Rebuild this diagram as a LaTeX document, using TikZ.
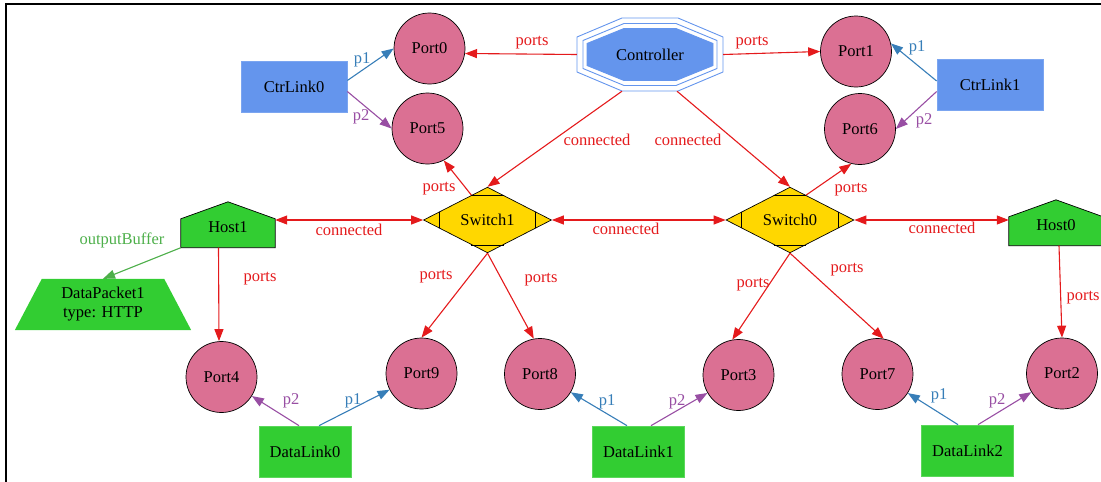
\documentclass[tikz,border=0pt]{standalone}
\usepackage{fontspec}
\setmainfont{Liberation Serif}
\usetikzlibrary{arrows.meta,calc,shapes.geometric,backgrounds}
\definecolor{ered}{HTML}{E41A1C}
\definecolor{eblue}{HTML}{377EB8}
\definecolor{epurple}{HTML}{984EA3}
\definecolor{egreen}{HTML}{4DAF4A}
\definecolor{portfill}{HTML}{DB7093}
\definecolor{limeg}{HTML}{32CD32}
\definecolor{goldc}{HTML}{FFD700}
\definecolor{cfblue}{HTML}{6495ED}
\begin{document}
\begin{tikzpicture}[x=1pt,y=-1pt,
  >={Triangle[length=12pt,width=9pt]},
  every node/.style={font=\fontsize{16.5}{19}\selectfont},
  portnode/.style={circle,draw=black,line width=0.7pt,fill=portfill,minimum size=71pt,inner sep=0pt},
  ctrllink/.style={rectangle,fill=cfblue,draw=cfblue!85!white,line width=0.7pt,minimum width=106pt,minimum height=51pt,inner sep=0pt},
  datalink/.style={rectangle,fill=limeg,draw=limeg!80!white,line width=0.7pt,minimum width=92pt,minimum height=51pt,inner sep=0pt},
  switchnode/.style={diamond,draw=black,line width=0.7pt,fill=goldc,minimum width=128pt,minimum height=49pt,inner sep=0pt},
  hostnode/.style={rectangle,minimum width=94pt,minimum height=41pt,inner sep=0pt},
  hostshape/.style={fill=limeg,draw=black,line width=0.7pt},
  octline/.style={draw=cfblue,line width=0.9pt},
  redge/.style={draw=ered,line width=1.1pt,->},
  bedge/.style={draw=ered,line width=1.1pt,<->},
  pone/.style={draw=eblue,line width=1.1pt,->},
  ptwo/.style={draw=epurple,line width=1.1pt,->},
  gedge/.style={draw=egreen,line width=1.1pt,->},
  rlab/.style={text=ered,inner sep=0pt},
  blab/.style={text=eblue,inner sep=0pt},
  plab/.style={text=epurple,inner sep=0pt},
  glab/.style={text=egreen,inner sep=0pt},
  mark/.style={}]
\useasboundingbox (0,0) rectangle (1101,482);
% frame
\draw[line width=1.2pt] (6,490) -- (6,4) -- (1110,4);

% nodes
\node[portnode] (port0) at (429.5,48.5) {Port0};
\node[portnode] (port5) at (427.5,128.5) {Port5};
\node[portnode] (port1) at (856,51.5) {Port1};
\node[portnode] (port6) at (860,129) {Port6};
\node[portnode] (port4) at (221.5,377) {Port4};
\node[portnode] (port9) at (421.5,373.5) {Port9};
\node[portnode] (port8) at (540,374) {Port8};
\node[portnode] (port3) at (738.5,375) {Port3};
\node[portnode] (port7) at (877.5,374) {Port7};
\node[portnode] (port2) at (1062,373.5) {Port2};
\node[ctrllink] (cl0) at (294,86.5) {CtrLink0};
\node[ctrllink] (cl1) at (990,84.5) {CtrLink1};
\node[datalink] (dl0) at (305,451.5) {DataLink0};
\node[datalink] (dl1) at (638.5,451.5) {DataLink1};
\node[datalink] (dl2) at (967.5,450.5) {DataLink2};
\node[switchnode] (s1) at (487.5,220) {Switch1};
\node[switchnode] (s0) at (790,220) {Switch0};
\node[hostnode] (h1) at (228,227) {Host1};
\node[hostnode] (h0) at (1056,225) {Host0};
\node[rectangle,minimum width=146pt,minimum height=73pt,inner sep=0pt] (ctrl) at (650,54.5) {Controller};
\node[rectangle,minimum width=176pt,minimum height=51pt,inner sep=0pt,align=center] (dp1) at (103,304.5) {DataPacket1\\type: HTTP};

% shapes drawn behind the texts
\begin{scope}[on background layer]
  \draw[hostshape] (h1.south west) -- (h1.south east) -- ($(h1.north east)+(0,12.5)$) -- ($(h1.north)+(0,-4.5)$) -- ($(h1.north west)+(0,12.5)$) -- cycle;
  \draw[hostshape] (h0.south west) -- (h0.south east) -- ($(h0.north east)+(0,12.5)$) -- ($(h0.north)+(0,-4.5)$) -- ($(h0.north west)+(0,12.5)$) -- cycle;
  \draw[octline] (622,18) -- (678,18) -- (723,37) -- (723,72) -- (678,91) -- (622,91) -- (577,72) -- (577,37) -- cycle;
  \draw[octline] (624,23.5) -- (676,23.5) -- (717,40.5) -- (717,68.5) -- (676,85.5) -- (624,85.5) -- (583,68.5) -- (583,40.5) -- cycle;
  \draw[octline,fill=cfblue] (624,28.5) -- (676,28.5) -- (713,43.5) -- (713,65.5) -- (676,80.5) -- (624,80.5) -- (587,65.5) -- (587,43.5) -- cycle;
  \fill[limeg] (dp1.south west) -- (dp1.south east) -- ($(dp1.north east)+(-27,0)$) -- ($(dp1.north west)+(27,0)$) -- cycle;
\end{scope}

% switch corner marks
\foreach \s in {s1,s0}{
  \draw[line width=0.7pt] ($(\s.west)!0.25!(\s.north)$) -- ($(\s.west)!0.25!(\s.south)$);
  \draw[line width=0.7pt] ($(\s.east)!0.25!(\s.north)$) -- ($(\s.east)!0.25!(\s.south)$);
  \draw[line width=0.7pt] ($(\s.north)!0.25!(\s.west)$) -- ($(\s.north)!0.25!(\s.east)$);
  \draw[line width=0.7pt] ($(\s.south)!0.25!(\s.west)$) -- ($(\s.south)!0.25!(\s.east)$);
}

% red edges
\draw[redge] (ctrl.west) -- (port0.-8);
\draw[redge] (ctrl.east) -- (port1.west);
\draw[redge] ([xshift=-28pt]ctrl.south) -- (s1.north);
\draw[redge] ([xshift=27pt]ctrl.south) -- (s0.north);
\draw[redge] ($(s1.north)!0.25!(s1.west)$) -- (port5.-63);
\draw[redge] ($(s0.north)!0.25!(s0.east)$) -- (port6.-104);
\draw[bedge] (s1.west) -- (h1.east |- s1.west);
\draw[bedge] (s1.east) -- (s0.west);
\draw[bedge] (s0.east) -- (h0.west |- s0.east);
\draw[redge] (s1.south) -- (port9.north);
\draw[redge] (s1.south) -- (port8.100);
\draw[redge] (s0.south) -- (port3.100);
\draw[redge] (s0.south) -- (port7.80);
\draw[redge] ([xshift=-9.5pt]h1.south) -- ([xshift=-2.5pt]port4.north);
\draw[redge] ([xshift=3pt]h0.south) -- (port2.north);
\draw[gedge] (h1.south west) -- (dp1.north);

% link edges
\draw[pone] ([yshift=6pt]cl0.east) -- (port0.west);
\draw[ptwo] ([yshift=-5pt]cl0.east) -- (port5.west);
\draw[pone] ([yshift=3.5pt]cl1.west) -- (port1.13);
\draw[ptwo] ([yshift=-7pt]cl1.west) -- (port6.east);
\draw[ptwo] ([xshift=-6pt]dl0.north) -- (port4);
\draw[pone] ([xshift=14pt]dl0.north) -- (port9);
\draw[pone] ([xshift=-11.5pt]dl1.north) -- (port8);
\draw[ptwo] ([xshift=12.5pt]dl1.north) -- (port3);
\draw[pone] ([xshift=-9.5pt]dl2.north) -- (port7);
\draw[ptwo] ([xshift=10.5pt]dl2.north) -- (port2);

% labels
\node[rlab] (lp0) at (532,43) {ports};
\node[rlab] (lp1) at (752,43) {ports};
\node[rlab] (lc1) at (597,140) {connected};
\node[rlab] (lc0) at (688,140) {connected};
\node[rlab] (lp5) at (439,189) {ports};
\node[rlab] (lp6) at (851,190) {ports};
\node[rlab] (lch1) at (349,230) {connected};
\node[rlab] (lcss) at (626,229) {connected};
\node[rlab] (lch0) at (942,228) {connected};
\node[rlab] (lp9) at (436,277) {ports};
\node[rlab] (lp8) at (541,280) {ports};
\node[rlab] (lp3) at (753,285) {ports};
\node[rlab] (lp7) at (847,270) {ports};
\node[rlab] (lp2) at (1083,298) {ports};
\node[rlab] (lp4) at (260,279) {ports};
\node[glab] (lob) at (122,240) {outputBuffer};
\node[blab] (b1) at (362,60) {p1};
\node[plab] (q1) at (361,117) {p2};
\node[blab] (b2) at (917,48) {p1};
\node[plab] (q2) at (924,121) {p2};
\node[plab] (q3) at (291,401) {p2};
\node[blab] (b3) at (353,401) {p1};
\node[blab] (b4) at (607,402) {p1};
\node[plab] (q4) at (677,402) {p2};
\node[blab] (b5) at (939,396) {p1};
\node[plab] (q5) at (997,401) {p2};
\end{tikzpicture}
\end{document}
